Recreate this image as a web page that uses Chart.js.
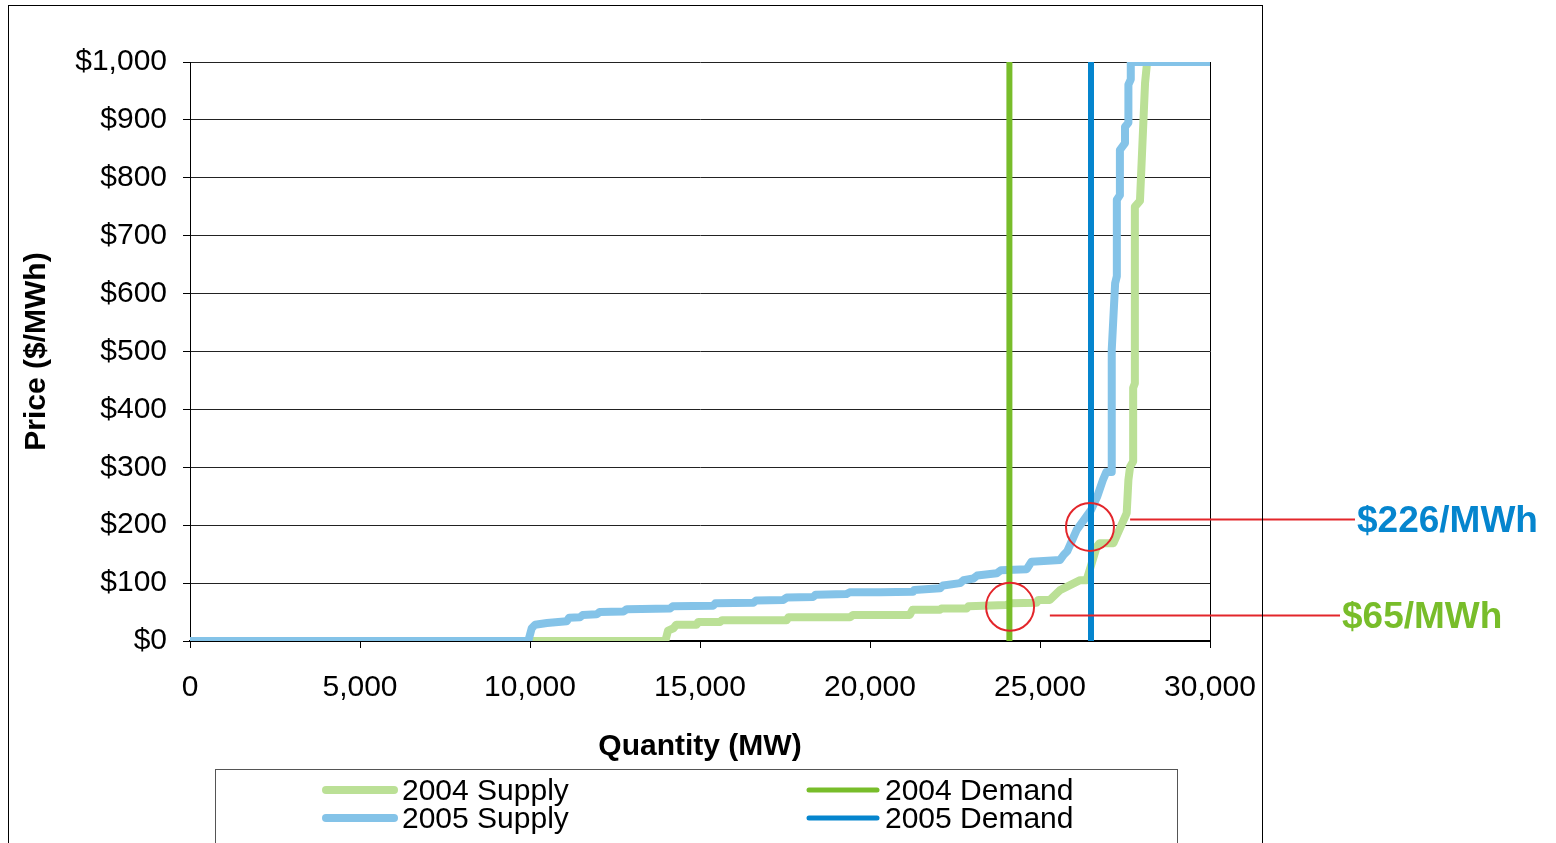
<!DOCTYPE html>
<html>
<head>
<meta charset="utf-8">
<script src="https://cdn.jsdelivr.net/npm/chart.js@4"></script>
<style>
  html, body { margin: 0; padding: 0; background: #fff; overflow: hidden; }
  #wrap { position: relative; width: 1556px; height: 843px; }
</style>
</head>
<body>
<div id="wrap"><canvas id="supplyChart"></canvas></div>
<script>
// ======================
// DATA
// ======================

const priceTicks = ["$0", "$100", "$200", "$300", "$400", "$500", "$600", "$700", "$800", "$900", "$1,000"];
const qtyTicks = ["0", "5,000", "10,000", "15,000", "20,000", "25,000", "30,000"];

const seriesNames = ["2004 Supply", "2005 Supply", "2004 Demand", "2005 Demand"];

const supply2004Mw = [0, 13980, 14060, 14220, 14300, 14900, 14950, 15590, 15650, 17550, 17600, 19410, 19500,
    21170, 21250, 22060, 22100, 22840, 22900, 24000, 24150, 24900, 24950, 25290, 25590, 26180, 26370, 26670,
    26750, 27160, 27550, 27600, 27650, 27740, 27740, 27790, 27790, 27940, 28090, 28150, 30000];
const supply2004Price = [0, 0, 18, 22, 28, 28, 33, 33, 36, 36, 41, 41, 45,
    45, 54, 54, 56, 56, 60, 62, 65, 66, 71, 71, 88, 105, 105, 163,
    169, 169, 221, 278, 301, 310, 437, 445, 750, 760, 964, 1000, 1000];

const supply2005Mw = [0, 9950, 10050, 10150, 10500, 11080, 11150, 11470, 11550, 11960, 12050, 12750, 12850,
    14120, 14200, 15390, 15450, 16570, 16650, 17450, 17550, 18330, 18400, 19310, 19400, 20300, 21270, 21300,
    22060, 22150, 22650, 22750, 23040, 23150, 23730, 23850, 24610, 24750, 25590, 25700, 25800, 26080, 26500,
    26680, 26850, 26950, 27110, 27110, 27210, 27260, 27260, 27350, 27350, 27500, 27500, 27600, 27600, 27670,
    27670, 30000];
const supply2005Price = [0, 0, 22, 28, 31, 34, 40, 41, 45, 46, 50, 51, 55,
    56, 60, 61, 65, 66, 70, 71, 75, 76, 80, 81, 84, 84, 85, 88,
    91, 96, 100, 105, 108, 113, 117, 122, 124, 137, 140, 149, 155, 192, 226,
    249, 278, 292, 292, 503, 618, 630, 762, 770, 848, 860, 888, 895, 961, 970,
    1000, 1000];

const demand2004Mw = [24100, 24100];
const demand2005Mw = [26500, 26500];
const demandPrice = [0, 1000];

const clearing2004 = "$65/MWh";
const clearing2005 = "$226/MWh";

// ======================
// COLORS / FONTS
// ======================

const green2004 = "#BBE096";
const blue2005 = "#84C3E8";
const greenDemand = "#78BD2A";
const blueDemand = "#0585CE";
const red = "#E3262B";
const FONT = "'Liberation Sans', Arial, sans-serif";

function toPoints(xs, ys) {
    return xs.map((x, i) => ({ x: x, y: ys[i] }));
}

// ======================
// DECORATIONS (frame, legend, callouts)
// ======================

const decorations = {
    id: "decorations",
    afterDatasetsDraw(chart) {
        const ctx = chart.ctx;
        const xs = chart.scales.x;
        const ys = chart.scales.y;
        const area = chart.chartArea;

        ctx.save();

        // right edge of plot
        ctx.strokeStyle = "#000";
        ctx.lineWidth = 1;
        ctx.beginPath();
        ctx.moveTo(Math.round(area.right) + 0.5, area.top);
        ctx.lineTo(Math.round(area.right) + 0.5, area.bottom);
        ctx.stroke();

        // circles around the intersections
        ctx.strokeStyle = red;
        ctx.lineWidth = 2;
        [[26470, 197], [24120, 59]].forEach(p => {
            ctx.beginPath();
            ctx.arc(xs.getPixelForValue(p[0]), ys.getPixelForValue(p[1]), 24, 0, Math.PI * 2);
            ctx.stroke();
        });

        // callout lines
        const y226 = ys.getPixelForValue(210);
        const y65 = ys.getPixelForValue(44);
        ctx.beginPath();
        ctx.moveTo(xs.getPixelForValue(27650), y226);
        ctx.lineTo(area.right + 145, y226);
        ctx.moveTo(xs.getPixelForValue(25290), y65);
        ctx.lineTo(area.right + 130, y65);
        ctx.stroke();

        // callout text
        ctx.font = "bold 37px " + FONT;
        ctx.textBaseline = "middle";
        ctx.textAlign = "left";
        ctx.fillStyle = blueDemand;
        ctx.fillText(clearing2005, area.right + 147, y226 + 2);
        ctx.fillStyle = greenDemand;
        ctx.fillText(clearing2004, area.right + 132, y65 + 2);

        ctx.restore();
    },
    afterDraw(chart) {
        const ctx = chart.ctx;
        ctx.save();

        // outer frame
        ctx.strokeStyle = "#000";
        ctx.lineWidth = 1;
        ctx.strokeRect(8.5, 5.5, 1254, 900);

        // legend box
        ctx.strokeStyle = "#555";
        ctx.strokeRect(215.5, 769.5, 962, 120);

        const items = [
            { x: 326, y: 790, w: 8, c: green2004, t: seriesNames[0] },
            { x: 326, y: 818, w: 8, c: blue2005, t: seriesNames[1] },
            { x: 809, y: 790, w: 5, c: greenDemand, t: seriesNames[2] },
            { x: 809, y: 818, w: 5, c: blueDemand, t: seriesNames[3] }
        ];
        ctx.lineCap = "round";
        ctx.font = "30px " + FONT;
        ctx.textBaseline = "middle";
        ctx.textAlign = "left";
        items.forEach(it => {
            ctx.strokeStyle = it.c;
            ctx.lineWidth = it.w;
            ctx.beginPath();
            ctx.moveTo(it.x, it.y);
            ctx.lineTo(it.x + 68, it.y);
            ctx.stroke();
            ctx.fillStyle = "#000";
            ctx.fillText(it.t, it.x + 76, it.y + 2);
        });

        ctx.restore();
    }
};

// ======================
// CHART
// ======================

new Chart(document.getElementById("supplyChart"), {
    type: "line",
    data: {
        datasets: [
            {
                label: seriesNames[3],
                data: toPoints(demand2005Mw, demandPrice),
                borderColor: blueDemand,
                borderWidth: 6,
                order: 0
            },
            {
                label: seriesNames[2],
                data: toPoints(demand2004Mw, demandPrice),
                borderColor: greenDemand,
                borderWidth: 6,
                order: 1
            },
            {
                label: seriesNames[1],
                data: toPoints(supply2005Mw, supply2005Price),
                borderColor: blue2005,
                borderWidth: 8,
                borderJoinStyle: "round",
                order: 2
            },
            {
                label: seriesNames[0],
                data: toPoints(supply2004Mw, supply2004Price),
                borderColor: green2004,
                borderWidth: 8,
                borderJoinStyle: "round",
                order: 3
            }
        ]
    },
    options: {
        responsive: true,
        maintainAspectRatio: false,
        animation: false,
        events: [],
        elements: {
            point: { radius: 0 },
            line: { tension: 0, fill: false }
        },
        layout: {
            padding: { left: 0, top: 62, right: 346, bottom: 77 }
        },
        plugins: {
            legend: { display: false },
            tooltip: { enabled: false }
        },
        scales: {
            x: {
                type: "linear",
                min: 0,
                max: 30000,
                afterFit: s => { s.height = 125; },
                ticks: {
                    stepSize: 5000,
                    autoSkip: false,
                    maxRotation: 0,
                    padding: 22,
                    color: "#000",
                    font: { family: FONT, size: 30 },
                    callback: (v, i) => qtyTicks[i]
                },
                grid: {
                    drawOnChartArea: false,
                    drawTicks: true,
                    tickLength: 7,
                    tickColor: "#000"
                },
                border: { color: "#000", width: 2 },
                title: {
                    display: true,
                    text: "Quantity (MW)",
                    color: "#000",
                    font: { family: FONT, size: 30, weight: "bold" },
                    padding: { top: 0, bottom: 1 }
                }
            },
            y: {
                min: 0,
                max: 1000,
                afterFit: s => { s.width = 190; },
                ticks: {
                    stepSize: 100,
                    autoSkip: false,
                    padding: 16,
                    color: "#000",
                    font: { family: FONT, size: 30 },
                    callback: (v, i) => priceTicks[i]
                },
                grid: {
                    color: "#222",
                    lineWidth: 1,
                    tickLength: 7,
                    tickColor: "#000"
                },
                border: { color: "#000", width: 1 },
                title: {
                    display: true,
                    text: "Price ($/MWh)",
                    color: "#000",
                    font: { family: FONT, size: 30, weight: "bold" },
                    padding: { top: 19, bottom: 0 }
                }
            }
        }
    },
    plugins: [decorations]
});
</script>
</body>
</html>
